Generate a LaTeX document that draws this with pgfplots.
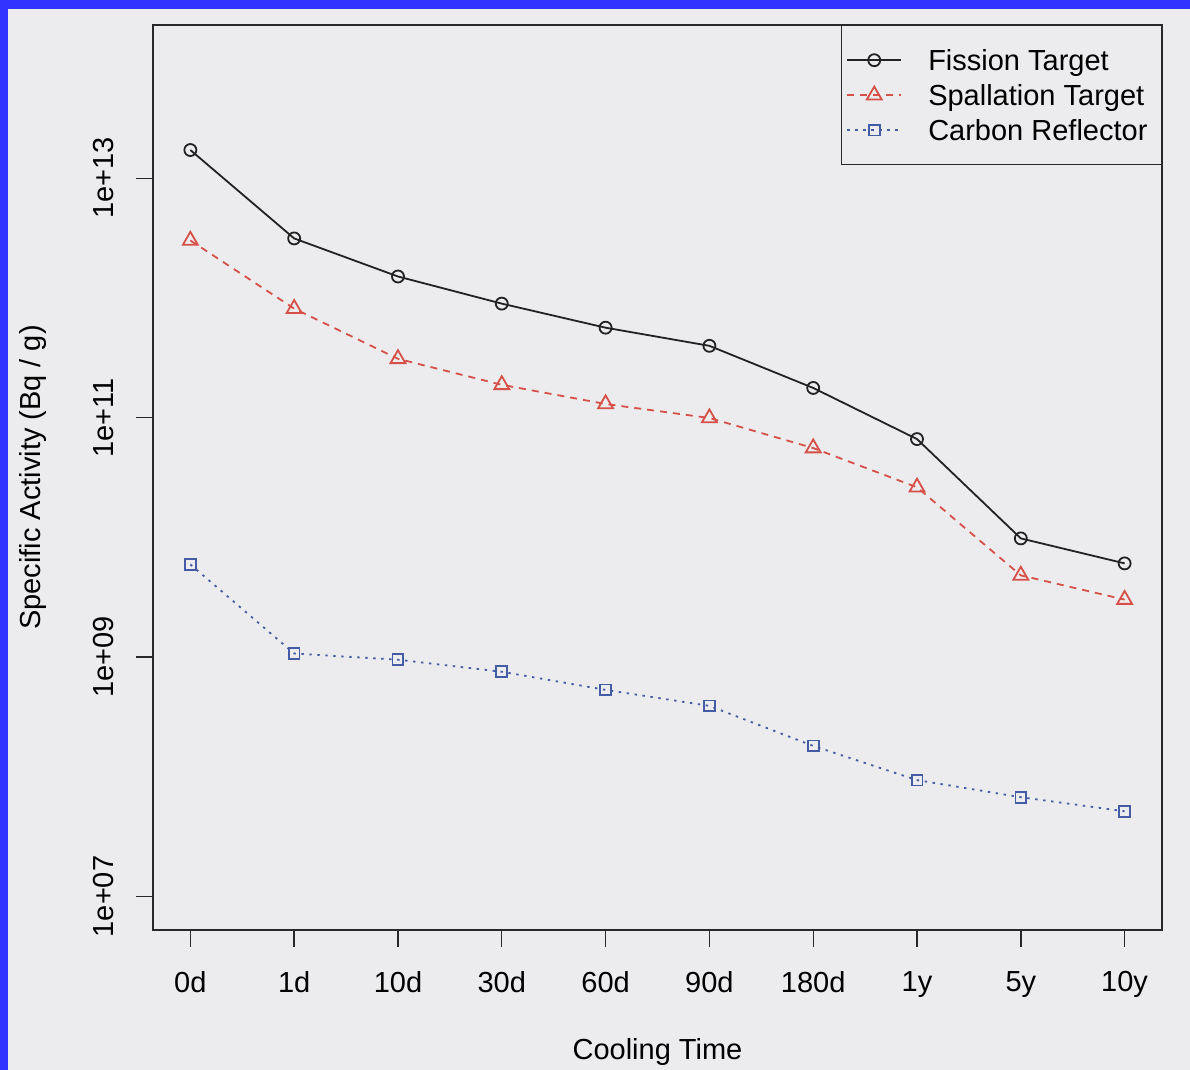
\documentclass[border=0pt]{standalone}
\usepackage{fontspec}
\setmainfont{Liberation Sans}
\usepackage{pgfplots}
\pgfplotsset{compat=1.18}

\definecolor{bggray}{RGB}{236,236,238}
\definecolor{frameblue}{RGB}{51,51,255}
\definecolor{axisgray}{RGB}{40,40,40}
\definecolor{fisscol}{RGB}{34,34,34}
\definecolor{spalcol}{RGB}{214,80,72}
\definecolor{carbcol}{RGB}{68,92,165}

% specific activity (Bq/g) per cooling time step
\pgfplotstableread{
idx fission spallation carbon
0 1.72e13 3.02e12 5.94e9
1 3.14e12 8.14e11 1.07e9
2 1.51e12 3.10e11 9.50e8
3 8.96e11 1.88e11 7.54e8
4 5.64e11 1.30e11 5.32e8
5 3.98e11 9.93e10 3.91e8
6 1.77e11 5.57e10 1.81e8
7 6.62e10 2.62e10 9.38e7
8 9.80e9 4.81e9 6.75e7
9 6.06e9 3.02e9 5.15e7
}\activity

\begin{document}
\begin{tikzpicture}[x=1pt,y=1pt]
% page background and blue frame strips
\fill[bggray] (0,0) rectangle (595,535);
\fill[frameblue] (0,530.5) rectangle (595,535);
\fill[frameblue] (0,0) rectangle (4,535);
\useasboundingbox (0,0) rectangle (595,535);
\begin{axis}[
  at={(76.5pt,70pt)}, anchor=south west,
  scale only axis, width=504.5pt, height=452.5pt,
  xmin=-0.36, xmax=9.36,
  ymode=log, ymin=5.25e6, ymax=1.905e14,
  yminorticks=false,
  xtick={0,...,9},
  xticklabels={0d,1d,10d,30d,60d,90d,180d,1y,5y,10y},
  ytick={1e7,1e9,1e11,1e13},
  yticklabels={1e+07,1e+09,1e+11,1e+13},
  tick align=outside, xtick pos=bottom, ytick pos=left,
  major tick length=8.5pt,
  tick style={axisgray, line width=0.7pt},
  axis line style={axisgray, line width=0.7pt},
  font=\fontsize{14.5}{17}\selectfont,
  xticklabel style={anchor=north, inner sep=0pt},
  yticklabel style={rotate=90, anchor=south, inner sep=0pt},
  xticklabel shift=12pt,
  yticklabel shift=11pt,
  xlabel={Cooling Time},
  ylabel={Specific Activity (Bq / g)},
  xlabel style={at={(axis description cs:0.5,-0.1348)}, anchor=center, inner sep=0pt},
  ylabel style={at={(axis description cs:-0.119,0.5)}, anchor=center, rotate=0, inner sep=0pt},
  legend style={at={(1,1)}, anchor=north east, draw=axisgray, line width=0.7pt,
    fill=none, inner xsep=0pt, inner ysep=8.5pt, row sep=0pt,
    font=\fontsize{14.5}{17}\selectfont,
    nodes={inner sep=0pt, text height=13.95pt, text depth=3.55pt}},
  legend cell align=left,
  legend image code/.code={%
    \path[draw=none] (-3pt,0pt) -- (40.5pt,0pt);
    \draw[mark repeat=2, mark phase=2] plot coordinates {(0pt,0pt) (13.5pt,0pt) (27pt,0pt)};},
]
\addplot[fisscol, line width=0.9pt, mark=o, mark size=3pt,
  mark options={solid}] table[x=idx, y=fission] {\activity};
\addlegendentry{Fission Target}
\addplot[spalcol, line width=0.9pt, dash pattern=on 3.5pt off 3pt,
  mark=triangle, mark size=4.3pt, mark options={solid}] table[x=idx, y=spallation] {\activity};
\addlegendentry{Spallation Target\hspace*{8.5pt}}
\addplot[carbcol, line width=0.9pt, dash pattern=on 1.2pt off 2.8pt,
  mark=square, mark size=2.7pt, mark options={solid}] table[x=idx, y=carbon] {\activity};
\addlegendentry{Carbon Reflector}
\end{axis}
\end{tikzpicture}
\end{document}
